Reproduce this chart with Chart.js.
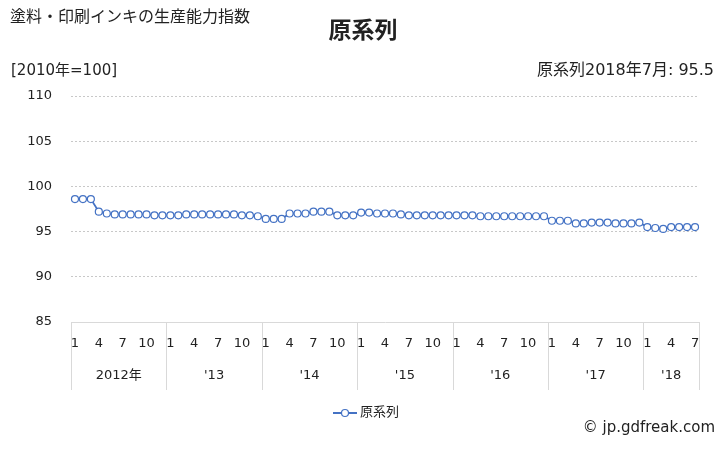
<!DOCTYPE html>
<html>
<head>
<meta charset="utf-8">
<script src="https://cdn.jsdelivr.net/npm/chart.js@4.4.0/dist/chart.umd.min.js"></script>
<style>
  html, body { margin: 0; padding: 0; background: #fff; }
  #wrap { width: 728px; height: 450px; }
</style>
</head>
<body>
<div id="wrap"><canvas id="myChart" width="728" height="450"></canvas></div>
<script>
// 年ごとの月次値 (2010年=100)
const years = ['2012年', "'13", "'14", "'15", "'16", "'17", "'18"];
const monthTicks = [1, 4, 7, 10];
const v2012 = [98.6, 98.6, 98.6, 97.2, 97.0, 96.9, 96.9, 96.9, 96.9, 96.9, 96.8, 96.8];
const v2013 = [96.8, 96.8, 96.9, 96.9, 96.9, 96.9, 96.9, 96.9, 96.9, 96.8, 96.8, 96.7];
const v2014 = [96.4, 96.4, 96.4, 97.0, 97.0, 97.0, 97.2, 97.2, 97.2, 96.8, 96.8, 96.8];
const v2015 = [97.1, 97.1, 97.0, 97.0, 97.0, 96.9, 96.8, 96.8, 96.8, 96.8, 96.8, 96.8];
const v2016 = [96.8, 96.8, 96.8, 96.7, 96.7, 96.7, 96.7, 96.7, 96.7, 96.7, 96.7, 96.7];
const v2017 = [96.2, 96.2, 96.2, 95.9, 95.9, 96.0, 96.0, 96.0, 95.9, 95.9, 95.9, 96.0];
const v2018 = [95.5, 95.4, 95.3, 95.5, 95.5, 95.5, 95.5];
const yearValues = [v2012, v2013, v2014, v2015, v2016, v2017, v2018];

const labels = [];
const values = [];
const yearStart = []; // 各年の最初のインデックス
yearValues.forEach((arr, y) => {
    yearStart.push(labels.length);
    arr.forEach((v, m) => {
        labels.push(m + 1);
        values.push(v);
    });
});

const blue = '#4472C4';
const jpFont = "'DejaVu Sans', 'Noto Sans CJK JP', sans-serif";

// 年の行・区切り線・見出し・凡例
const decorPlugin = {
    id: 'decor',
    afterDraw(chart) {
        const ctx = chart.ctx;
        const xs = chart.scales.x;
        const area = chart.chartArea;
        const step = xs.getPixelForValue(1) - xs.getPixelForValue(0);
        ctx.save();

        // 年の区切り線
        const bounds = yearStart.map(i => xs.getPixelForValue(i) - step / 2);
        bounds.push(xs.getPixelForValue(labels.length - 1) + step / 2);
        ctx.strokeStyle = '#d9d9d9';
        ctx.lineWidth = 1;
        bounds.forEach(x => {
            const px = Math.round(x) + 0.5;
            ctx.beginPath();
            ctx.moveTo(px, area.bottom);
            ctx.lineTo(px, area.bottom + 68);
            ctx.stroke();
        });

        // 年ラベル
        ctx.fillStyle = '#222';
        ctx.font = '13px ' + jpFont;
        ctx.textAlign = 'center';
        ctx.textBaseline = 'middle';
        years.forEach((y, k) => {
            ctx.fillText(y, (bounds[k] + bounds[k + 1]) / 2, area.bottom + 54);
        });

        // 見出し
        ctx.textAlign = 'left';
        ctx.font = '16px ' + jpFont;
        ctx.fillText('塗料・印刷インキの生産能力指数', 10, 18);
        ctx.font = 'bold 23px ' + jpFont;
        ctx.textAlign = 'center';
        ctx.fillText('原系列', 363, 32);
        ctx.font = '15px ' + jpFont;
        ctx.textAlign = 'left';
        ctx.fillText('[2010年=100]', 11, 71);
        ctx.font = '16px ' + jpFont;
        ctx.textAlign = 'right';
        ctx.fillText('原系列2018年7月: 95.5', 714, 71);

        // 凡例
        const ly = 413;
        ctx.strokeStyle = blue;
        ctx.lineWidth = 2;
        ctx.beginPath();
        ctx.moveTo(333, ly);
        ctx.lineTo(357, ly);
        ctx.stroke();
        ctx.fillStyle = '#fff';
        ctx.lineWidth = 1.2;
        ctx.beginPath();
        ctx.arc(345, ly, 3.5, 0, Math.PI * 2);
        ctx.fill();
        ctx.stroke();
        ctx.fillStyle = '#222';
        ctx.font = '13px ' + jpFont;
        ctx.textAlign = 'left';
        ctx.fillText('原系列', 360, ly);

        // クレジット
        ctx.font = '15px ' + jpFont;
        ctx.textAlign = 'right';
        ctx.fillText('© jp.gdfreak.com', 715, 428);
        ctx.restore();
    }
};

const plot = document.getElementById('myChart').getContext('2d');
const myChart = new Chart(plot, {
    type: 'line',
    data: {
        labels: labels,
        datasets: [{
            label: '原系列',
            data: values,
            borderColor: blue,
            backgroundColor: '#fff',
            borderWidth: 1.8,
            pointRadius: 3.5,
            pointBorderWidth: 1.2,
            pointBackgroundColor: '#fff',
            pointBorderColor: blue,
            tension: 0,
            fill: false,
        }],
    },
    options: {
        responsive: false,
        animation: false,
        layout: { padding: { top: 96, right: 29, bottom: 58, left: 0 } },
        plugins: {
            legend: { display: false },
            tooltip: { enabled: false },
        },
        scales: {
            x: {
                offset: true,
                grid: { display: false },
                border: { display: true, color: '#d9d9d9' },
                ticks: {
                    autoSkip: false,
                    maxRotation: 0,
                    padding: 6,
                    color: '#222',
                    font: { size: 13, family: jpFont },
                    callback: (val, idx) => monthTicks.includes(labels[idx]) ? String(labels[idx]) : '',
                },
                afterFit: (scale) => { scale.height = 70; },
            },
            y: {
                min: 85,
                max: 110,
                grid: { color: '#c8c8c8', drawTicks: false },
                border: { display: false, dash: [2, 2] },
                ticks: {
                    stepSize: 5,
                    padding: 19,
                    color: '#222',
                    font: { size: 13, family: jpFont },
                },
                afterFit: (scale) => { scale.width = 71; },
            },
        },
    },
    plugins: [decorPlugin],
});
</script>
</body>
</html>
